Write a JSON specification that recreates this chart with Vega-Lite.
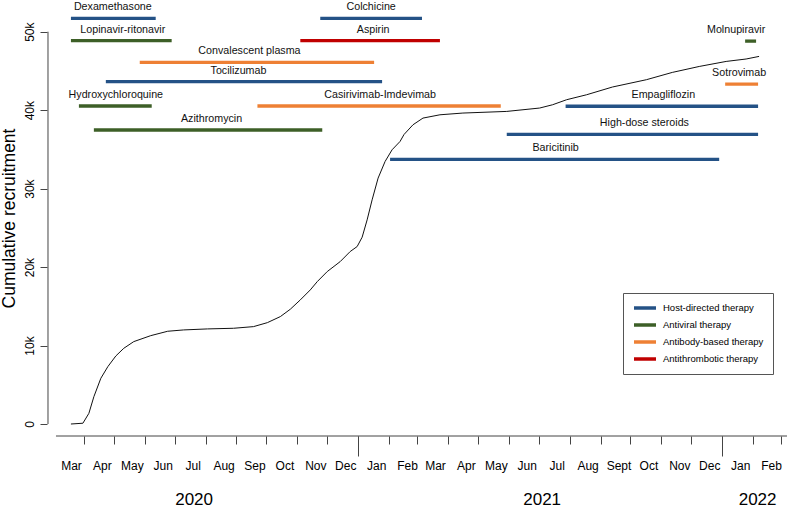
{
  "$schema": "https://vega.github.io/schema/vega-lite/v6.json",
  "width": 740,
  "height": 436,
  "autosize": {"type": "none"},
  "padding": {"left": 47, "top": 0, "right": 0, "bottom": 72},
  "background": "white",
  "config": {
    "view": {"stroke": null},
    "font": "Liberation Sans",
    "axis": {"labelFont": "Liberation Sans", "titleFont": "Liberation Sans", "labelColor": "#000", "titleColor": "#000", "tickColor": "#444", "domainColor": "#444", "grid": false}
  },
  "datasets": {
    "recruit": [
      {"date": "2020-03-19", "n": 0},
      {"date": "2020-03-31", "n": 100},
      {"date": "2020-04-06", "n": 1360},
      {"date": "2020-04-11", "n": 3480},
      {"date": "2020-04-18", "n": 5830},
      {"date": "2020-04-25", "n": 7310},
      {"date": "2020-05-03", "n": 8670},
      {"date": "2020-05-11", "n": 9650},
      {"date": "2020-05-21", "n": 10500},
      {"date": "2020-06-07", "n": 11260},
      {"date": "2020-06-24", "n": 11820},
      {"date": "2020-07-10", "n": 11990},
      {"date": "2020-08-03", "n": 12120},
      {"date": "2020-08-29", "n": 12200},
      {"date": "2020-09-18", "n": 12410},
      {"date": "2020-10-02", "n": 12920},
      {"date": "2020-10-15", "n": 13690},
      {"date": "2020-10-25", "n": 14630},
      {"date": "2020-11-04", "n": 15820},
      {"date": "2020-11-14", "n": 17090},
      {"date": "2020-11-21", "n": 18150},
      {"date": "2020-12-01", "n": 19430},
      {"date": "2020-12-14", "n": 20700},
      {"date": "2020-12-24", "n": 21980},
      {"date": "2020-12-31", "n": 22620},
      {"date": "2021-01-05", "n": 23810},
      {"date": "2021-01-10", "n": 26020},
      {"date": "2021-01-15", "n": 28570},
      {"date": "2021-01-21", "n": 31340},
      {"date": "2021-01-28", "n": 33460},
      {"date": "2021-02-04", "n": 34950},
      {"date": "2021-02-12", "n": 36010},
      {"date": "2021-02-16", "n": 36900},
      {"date": "2021-02-25", "n": 38140},
      {"date": "2021-03-07", "n": 38990},
      {"date": "2021-03-24", "n": 39410},
      {"date": "2021-04-16", "n": 39630},
      {"date": "2021-05-30", "n": 39840},
      {"date": "2021-07-02", "n": 40270},
      {"date": "2021-07-15", "n": 40690},
      {"date": "2021-07-29", "n": 41330},
      {"date": "2021-08-18", "n": 41960},
      {"date": "2021-09-13", "n": 42950},
      {"date": "2021-10-17", "n": 43880},
      {"date": "2021-11-12", "n": 44810},
      {"date": "2021-12-09", "n": 45570},
      {"date": "2022-01-05", "n": 46210},
      {"date": "2022-01-25", "n": 46520},
      {"date": "2022-02-07", "n": 46850}
    ],
    "trials": [
      {"trial": "Dexamethasone", "therapy": "Host-directed therapy", "start": "2020-03-19", "end": "2020-06-12", "level": 51700, "label_at": "2020-04-30"},
      {"trial": "Lopinavir-ritonavir", "therapy": "Antiviral therapy", "start": "2020-03-19", "end": "2020-06-28", "level": 48850, "label_at": "2020-05-10"},
      {"trial": "Convalescent plasma", "therapy": "Antibody-based therapy", "start": "2020-05-27", "end": "2021-01-17", "level": 46100, "label_at": "2020-09-14"},
      {"trial": "Tocilizumab", "therapy": "Host-directed therapy", "start": "2020-04-23", "end": "2021-01-25", "level": 43630, "label_at": "2020-09-03"},
      {"trial": "Hydroxychloroquine", "therapy": "Antiviral therapy", "start": "2020-03-27", "end": "2020-06-08", "level": 40530, "label_at": "2020-05-03"},
      {"trial": "Casirivimab-Imdevimab", "therapy": "Antibody-based therapy", "start": "2020-09-22", "end": "2021-05-24", "level": 40530, "label_at": "2021-01-23"},
      {"trial": "Azithromycin", "therapy": "Antiviral therapy", "start": "2020-04-11", "end": "2020-11-26", "level": 37470, "label_at": "2020-08-07"},
      {"trial": "Colchicine", "therapy": "Host-directed therapy", "start": "2020-11-24", "end": "2021-03-06", "level": 51700, "label_at": "2021-01-14"},
      {"trial": "Aspirin", "therapy": "Antithrombotic therapy", "start": "2020-11-04", "end": "2021-03-24", "level": 48850, "label_at": "2021-01-16"},
      {"trial": "Molnupiravir", "therapy": "Antiviral therapy", "start": "2022-01-24", "end": "2022-02-04", "level": 48800, "label_at": "2022-01-15"},
      {"trial": "Sotrovimab", "therapy": "Antibody-based therapy", "start": "2022-01-04", "end": "2022-02-06", "level": 43330, "label_at": "2022-01-18"},
      {"trial": "Empagliflozin", "therapy": "Host-directed therapy", "start": "2021-07-28", "end": "2022-02-06", "level": 40500, "label_at": "2021-11-03"},
      {"trial": "High-dose steroids", "therapy": "Host-directed therapy", "start": "2021-05-30", "end": "2022-02-06", "level": 36920, "label_at": "2021-10-15"},
      {"trial": "Baricitinib", "therapy": "Host-directed therapy", "start": "2021-02-02", "end": "2021-12-29", "level": 33740, "label_at": "2021-07-18"}
    ]
  },
  "layer": [
    {
      "data": {"name": "recruit"},
      "mark": {"type": "line", "color": "#111", "strokeWidth": 1},
      "encoding": {
        "x": {
          "field": "date", "type": "temporal",
          "scale": {"type": "utc", "domain": [{"year": 2020, "month": 2, "date": 24, "utc": true}, {"year": 2022, "month": 3, "date": 7, "utc": true}]},
          "axis": {
            "orient": "bottom", "title": null, "domain": false, "grid": false,
            "values": [
              {"year": 2020, "month": 3, "date": 1, "utc": true},
              {"year": 2020, "month": 4, "date": 1, "utc": true},
              {"year": 2020, "month": 5, "date": 1, "utc": true},
              {"year": 2020, "month": 6, "date": 1, "utc": true},
              {"year": 2020, "month": 7, "date": 1, "utc": true},
              {"year": 2020, "month": 8, "date": 1, "utc": true},
              {"year": 2020, "month": 9, "date": 1, "utc": true},
              {"year": 2020, "month": 10, "date": 1, "utc": true},
              {"year": 2020, "month": 11, "date": 1, "utc": true},
              {"year": 2020, "month": 12, "date": 1, "utc": true},
              {"year": 2021, "month": 1, "date": 1, "utc": true},
              {"year": 2021, "month": 2, "date": 1, "utc": true},
              {"year": 2021, "month": 3, "date": 1, "utc": true},
              {"year": 2021, "month": 4, "date": 1, "utc": true},
              {"year": 2021, "month": 5, "date": 1, "utc": true},
              {"year": 2021, "month": 6, "date": 1, "utc": true},
              {"year": 2021, "month": 7, "date": 1, "utc": true},
              {"year": 2021, "month": 8, "date": 1, "utc": true},
              {"year": 2021, "month": 9, "date": 1, "utc": true},
              {"year": 2021, "month": 10, "date": 1, "utc": true},
              {"year": 2021, "month": 11, "date": 1, "utc": true},
              {"year": 2021, "month": 12, "date": 1, "utc": true},
              {"year": 2022, "month": 1, "date": 1, "utc": true},
              {"year": 2022, "month": 2, "date": 1, "utc": true},
              {"year": 2022, "month": 3, "date": 1, "utc": true}
            ],
            "tickSize": 8,
            "tickOpacity": {"condition": {"test": "utcyear(datum.value)==2020 && utcmonth(datum.value)==2", "value": 0}, "value": 1},
            "labelOffset": 18,
            "labelPadding": 25,
            "labelBaseline": "alphabetic",
            "labelFontSize": 12,
            "labelOverlap": false,
            "labelBound": false,
            "labelFlush": false,
            "labelExpr": "(utcyear(datum.value)==2022 && utcmonth(datum.value)==2) ? '' : ((utcyear(datum.value)==2021 && utcmonth(datum.value)==8) ? 'Sept' : utcFormat(datum.value, '%b'))"
          }
        },
        "y": {
          "field": "n", "type": "quantitative",
          "scale": {"domain": [-1529, 54040], "nice": false, "zero": false},
          "axis": {
            "orient": "left",
            "values": [0, 10000, 20000, 30000, 40000, 50000],
            "labelExpr": "datum.value == 0 ? '0' : format(datum.value / 1000, 'd') + 'k'",
            "labelAngle": -90,
            "labelAlign": "center",
            "labelBaseline": "bottom",
            "labelFontSize": 12,
            "labelPadding": 4,
            "tickSize": 7,
            "domain": false,
            "grid": false,
            "title": "Cumulative recruitment",
            "titleFontSize": 17.5,
            "titleFontWeight": "normal",
            "titlePadding": 5
          }
        }
      }
    },
    {
      "data": {"name": "trials"},
      "mark": {"type": "rule", "strokeWidth": 3.3, "strokeCap": "butt"},
      "encoding": {
        "x": {
          "field": "start", "type": "temporal",
          "axis": {
            "orient": "bottom", "title": null, "domain": false, "grid": false, "labels": false,
            "values": [{"year": 2021, "month": 1, "date": 1, "utc": true}, {"year": 2022, "month": 1, "date": 1, "utc": true}],
            "tickSize": 20
          }
        },
        "x2": {"field": "end"},
        "y": {"field": "level", "type": "quantitative", "axis": null},
        "color": {
          "field": "therapy", "type": "nominal",
          "scale": {
            "domain": ["Host-directed therapy", "Antiviral therapy", "Antibody-based therapy", "Antithrombotic therapy"],
            "range": ["#245286", "#3d5f27", "#ee8034", "#c00000"]
          },
          "legend": {
            "orient": "none", "legendX": 576, "legendY": 293, "title": null,
            "symbolType": "stroke", "symbolSize": 484, "symbolStrokeWidth": 3.5,
            "labelFontSize": 9.5, "labelColor": "#000", "labelFont": "Liberation Sans",
            "strokeColor": "#555", "fillColor": "white", "padding": 9,
            "clipHeight": 12, "rowPadding": 5, "labelOffset": 5
          }
        }
      }
    },
    {
      "data": {"name": "trials"},
      "mark": {"type": "text", "fontSize": 10.7, "align": "center", "baseline": "alphabetic", "dy": -8, "color": "#111"},
      "encoding": {
        "x": {"field": "label_at", "type": "temporal", "axis": null},
        "y": {"field": "level", "type": "quantitative", "axis": null},
        "text": {"field": "trial"}
      }
    },
    {
      "data": {"values": [{}]},
      "mark": {"type": "rule", "color": "#444", "strokeWidth": 1},
      "encoding": {
        "x": {
          "datum": {"year": 2020, "month": 2, "date": 25, "utc": true}, "type": "temporal",
          "axis": {
            "orient": "bottom", "title": null, "domain": false, "grid": false, "ticks": false,
            "values": [{"year": 2020, "month": 7, "date": 20, "utc": true}, {"year": 2021, "month": 7, "date": 4, "utc": true}, {"year": 2022, "month": 2, "date": 5, "utc": true}],
            "labelExpr": "utcFormat(datum.value, '%Y')",
            "labelFontSize": 17,
            "labelPadding": 68,
            "labelBaseline": "alphabetic",
            "labelOverlap": false,
            "labelBound": false,
            "labelFlush": false
          }
        },
        "y": {"datum": 0, "axis": null},
        "y2": {"datum": 50000}
      }
    },
    {
      "data": {"values": [{}]},
      "mark": {"type": "rule", "color": "#444", "strokeWidth": 1},
      "encoding": {
        "x": {"datum": {"year": 2020, "month": 3, "date": 4, "utc": true}, "type": "temporal", "axis": null},
        "x2": {"datum": {"year": 2022, "month": 3, "date": 7, "utc": true}},
        "y": {"datum": -1529, "axis": null}
      }
    }
  ],
  "resolve": {"axis": {"x": "independent", "y": "independent"}}
}
